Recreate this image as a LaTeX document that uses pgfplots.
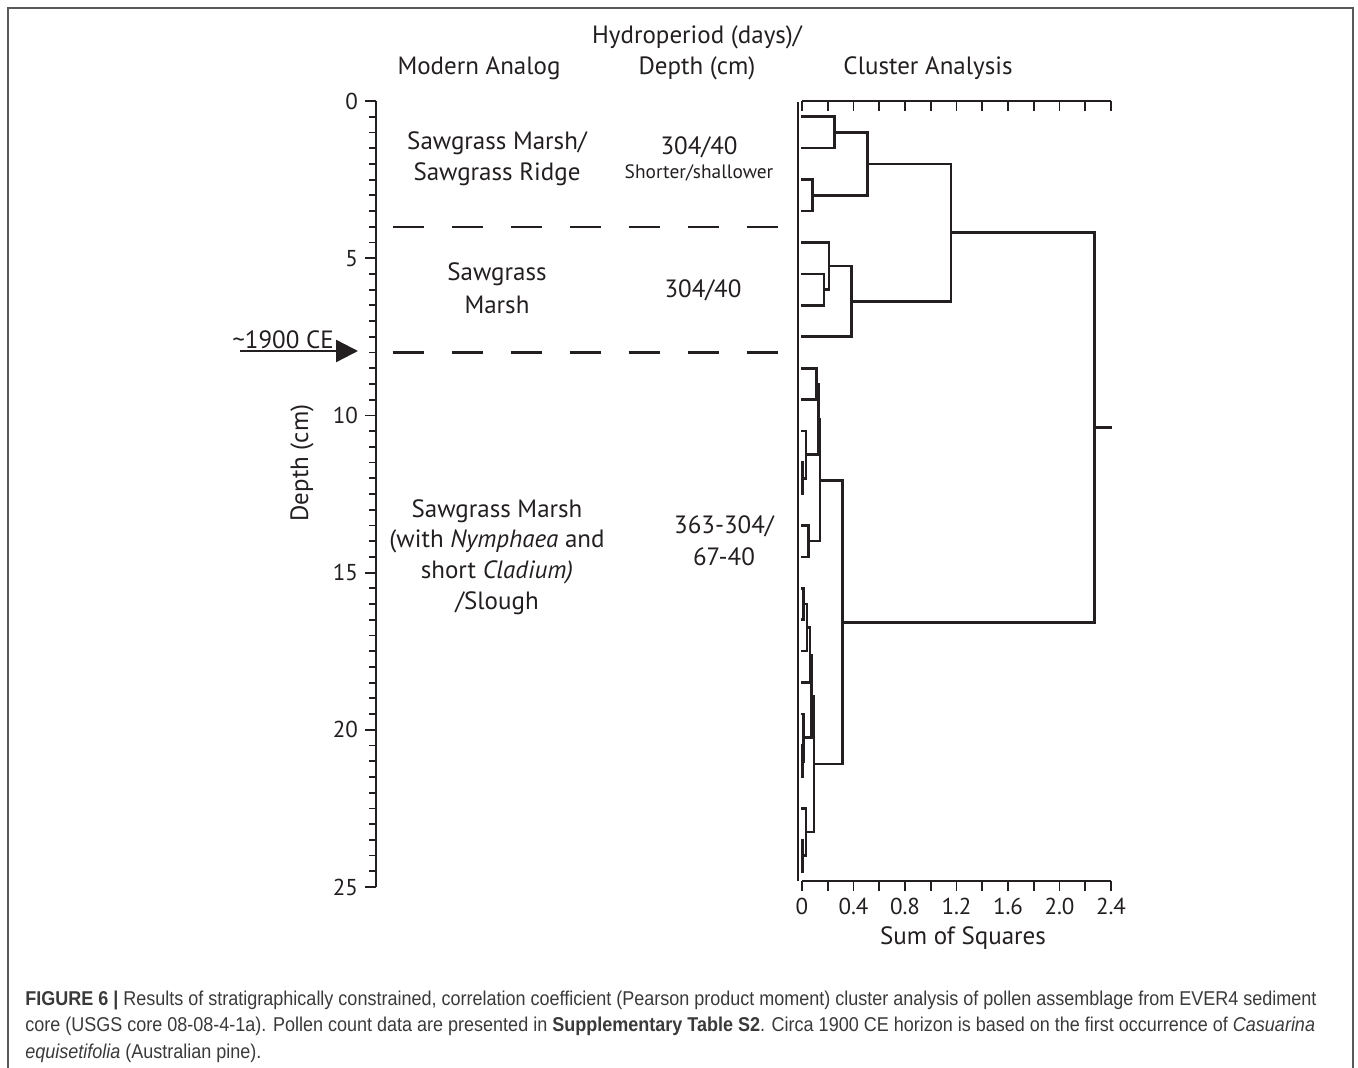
\documentclass[border=0pt]{standalone}
\usepackage{fontspec}
\setmainfont{PT Sans}
\newfontfamily\capfont[FakeStretch=0.9]{Liberation Sans}
\usepackage{pgfplots}
\pgfplotsset{compat=1.18}
\usetikzlibrary{arrows.meta}
\definecolor{ink}{HTML}{231F20}
\definecolor{captxt}{HTML}{3A3A3A}
\newcommand\lab{\fontsize{12.5}{14}\selectfont}
\newcommand\tk{\fontsize{11.5}{13}\selectfont}
\pgfplotsset{dend/.style={draw=ink, solid, line width=1.3pt, mark=none, line join=miter, line cap=rect}}
\begin{document}
\begin{tikzpicture}[x=0.5pt,y=-0.5pt]
\useasboundingbox (0,0) rectangle (1358,1068);
\draw[black!65, line width=1pt] (8,1068) -- (8,8) -- (1353,8) -- (1353,1068);

% depth axis
\begin{axis}[at={(188pt,-50.5pt)}, anchor=north west, scale only axis,
  width=1pt, height=393pt, xmin=0, xmax=1, ymin=0, ymax=25, y dir=reverse,
  hide x axis, axis y line*=left,
  ytick={0,5,10,15,20,25}, minor ytick={0.5,1,...,24.5},
  tick align=outside, major tick length=5.5pt, minor tick length=3.5pt,
  every tick/.style={ink, line width=0.9pt}, axis line style={ink, line width=1.1pt},
  tick label style={font=\tk, text=ink},
  /pgf/number format/assume math mode=true]
\addplot[draw=none] coordinates {(0,0) (0,25)};
\end{axis}

% dendrogram axis (top ticks)
\begin{axis}[at={(401pt,-50.5pt)}, anchor=north west, scale only axis,
  width=154.5pt, height=390pt, xmin=0, xmax=2.4, ymin=0, ymax=24.81, y dir=reverse,
  axis y line=none, axis x line*=top, clip=false,
  xtick={0,0.2,0.4,0.6,0.8,1.0,1.2,1.4,1.6,1.8,2.0,2.2,2.4}, xticklabels={},
  tick align=inside, major tick length=5pt,
  every tick/.style={ink, line width=0.9pt}, axis line style={ink, line width=1.1pt}]
% left frame line
\addplot[dend] coordinates {(-0.031,0.06) (-0.031,24.78)};
% horizons
\addplot[draw=ink, dash pattern=on 15.5pt off 14pt, line width=1.2pt] coordinates {(-3.18,4) (-0.186,4)};
\addplot[draw=ink, dash pattern=on 15.5pt off 14pt, line width=1.2pt] coordinates {(-3.18,8) (-0.186,8)};
% upper group
\addplot[dend] coordinates {(0,0.5) (0.25,0.5) (0.25,1.5) (0,1.5)};
\addplot[dend] coordinates {(0,2.5) (0.08,2.5) (0.08,3.5) (0,3.5)};
\addplot[dend] coordinates {(0.25,1) (0.51,1) (0.51,3) (0.08,3)};
\addplot[dend] coordinates {(0,5.5) (0.17,5.5) (0.17,6.5) (0,6.5)};
\addplot[dend] coordinates {(0,4.5) (0.21,4.5) (0.21,6) (0.17,6)};
\addplot[dend] coordinates {(0.21,5.25) (0.386,5.25) (0.386,7.5) (0,7.5)};
\addplot[dend] coordinates {(0.51,2) (1.157,2) (1.157,6.375) (0.386,6.375)};
% lower group
\addplot[dend] coordinates {(0,8.5) (0.114,8.5) (0.114,9.5) (0,9.5)};
\addplot[dend] coordinates {(0,11.5) (0.005,11.5) (0.005,12.5) (0,12.5)};
\addplot[dend] coordinates {(0,10.5) (0.03,10.5) (0.03,12) (0.005,12)};
\addplot[dend] coordinates {(0.114,9) (0.127,9) (0.127,11.25) (0.03,11.25)};
\addplot[dend] coordinates {(0,13.5) (0.05,13.5) (0.05,14.5) (0,14.5)};
\addplot[dend] coordinates {(0.127,10.125) (0.14,10.125) (0.14,14) (0.05,14)};
\addplot[dend] coordinates {(0,15.5) (0.01,15.5) (0.01,16.5) (0,16.5)};
\addplot[dend] coordinates {(0.01,16) (0.04,16) (0.04,17.5) (0,17.5)};
\addplot[dend] coordinates {(0.04,16.75) (0.062,16.75) (0.062,18.5) (0,18.5)};
\addplot[dend] coordinates {(0,20.5) (0.004,20.5) (0.004,21.5) (0,21.5)};
\addplot[dend] coordinates {(0,19.5) (0.012,19.5) (0.012,21) (0.004,21)};
\addplot[dend] coordinates {(0.062,17.625) (0.075,17.625) (0.075,20.25) (0.012,20.25)};
\addplot[dend] coordinates {(0,23.5) (0.004,23.5) (0.004,24.5) (0,24.5)};
\addplot[dend] coordinates {(0,22.5) (0.03,22.5) (0.03,24) (0.004,24)};
\addplot[dend] coordinates {(0.075,18.9375) (0.093,18.9375) (0.093,23.25) (0.03,23.25)};
\addplot[dend] coordinates {(0.14,12.0625) (0.313,12.0625) (0.313,21.09375) (0.093,21.09375)};
% root
\addplot[dend] coordinates {(1.157,4.1875) (2.27,4.1875) (2.27,16.578) (0.313,16.578)};
\addplot[dend] coordinates {(2.27,10.383) (2.4,10.383)};
\end{axis}

% dendrogram axis (bottom ticks)
\begin{axis}[at={(401pt,-50.5pt)}, anchor=north west, scale only axis,
  width=154.5pt, height=390pt, xmin=0, xmax=2.4, ymin=0, ymax=24.81, y dir=reverse,
  axis y line=none, axis x line*=bottom,
  xtick={0,0.2,0.4,0.6,0.8,1.0,1.2,1.4,1.6,1.8,2.0,2.2,2.4},
  xticklabels={0,,0.4,,0.8,,1.2,,1.6,,2.0,,2.4},
  tick align=outside, major tick length=5pt,
  every tick/.style={ink, line width=0.9pt}, axis line style={ink, line width=1.1pt},
  tick label style={font=\tk, text=ink}]
\addplot[draw=none] coordinates {(0,0) (2.4,24)};
\end{axis}

% arrow
\draw[ink, line width=1.2pt, -{Triangle[length=11pt, width=11pt]}] (240,351) -- (358,351);
\node[font=\lab, text=ink] at (283,340) {\char`~1900 CE};

% headers
\begin{scope}[every node/.style={font=\lab, text=ink, inner sep=0pt}]
\node at (697,37) {Hydroperiod (days)/};
\node at (479,68) {Modern Analog};
\node at (697,68) {Depth (cm)};
\node at (928,68) {Cluster Analysis};
\node at (497,143) {Sawgrass Marsh/};
\node at (497,174) {Sawgrass Ridge};
\node at (699,147) {304/40};
\node[font=\fontsize{9.7}{11}\selectfont] at (699,173) {Shorter/shallower};
\node at (497,274) {Sawgrass};
\node at (497,305) {Marsh};
\node at (703,290) {304/40};
\node at (497,511) {Sawgrass Marsh};
\node at (497,541) {(with \textit{Nymphaea} and};
\node at (497,572) {short \textit{Cladium)}};
\node at (497,603) {/Slough};
\node at (724,526) {363-304/};
\node at (724,557) {67-40};
\node[rotate=90] at (302,463) {Depth (cm)};
\node at (963,938) {Sum of Squares};
\end{scope}

% caption
\begin{scope}[every node/.style={font=\capfont\fontsize{10}{12}\selectfont, text=captxt, inner sep=0pt, anchor=base west}]
\node at (25,1005) {\textbf{FIGURE 6 |} Results of stratigraphically constrained, correlation coefficient (Pearson product moment) cluster analysis of pollen assemblage from EVER4 sediment};
\node at (25,1031) {core (USGS core 08-08-4-1a). Pollen count data are presented in \textbf{Supplementary Table S2}. Circa 1900 CE horizon is based on the first occurrence of \textit{Casuarina}};
\node at (25,1058) {\textit{equisetifolia} (Australian pine).};
\end{scope}
\end{tikzpicture}
\end{document}
